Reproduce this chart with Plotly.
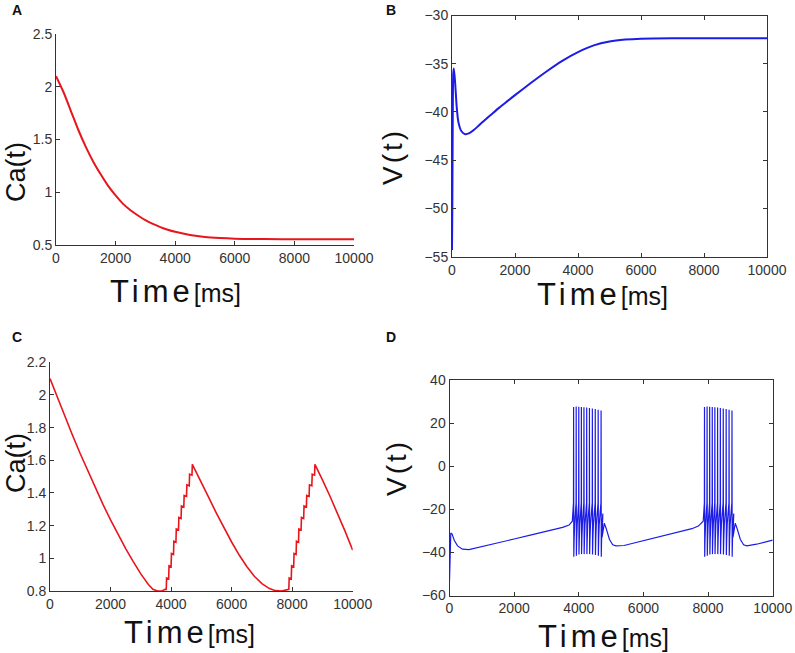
import plotly.graph_objects as go

# ---------------- data ----------------
# Panel A: calcium, no bursting
A_T = [0, 250, 500, 750, 1000, 1250, 1500, 1750, 2000, 2250, 2500, 2750, 3000,
       3250, 3500, 3750, 4000, 4500, 5000, 5500, 6000, 7000, 8000, 10000]
A_CA = [2.10, 1.95, 1.77, 1.59, 1.43, 1.29, 1.17, 1.06, 0.97, 0.89, 0.83, 0.78, 0.735,
        0.70, 0.67, 0.645, 0.625, 0.595, 0.576, 0.566, 0.56, 0.556, 0.555, 0.555]

# Panel B: voltage, no bursting
B_T = [0, 10, 25, 40, 60, 100, 150, 200, 300, 420, 550, 700, 850, 1000, 1250, 1500, 1750,
       2000, 2500, 3000, 3500, 4000, 4500, 5000, 5500, 6000, 7000, 10000]
B_V = [-54.3, -50, -40, -36, -35.5, -37, -39.5, -41, -42, -42.3, -42.2, -41.85, -41.4,
       -40.95, -40.25, -39.55, -38.9, -38.25, -37.0, -35.8, -34.7, -33.8, -33.1, -32.7,
       -32.5, -32.4, -32.35, -32.35]

# Panels C/D: bursting; spike times shared by both panels
BURST1_T = [3840, 3920, 4000, 4080, 4160, 4245, 4330, 4420, 4510, 4600, 4690]
BURST2_T = [7890, 7970, 8050, 8130, 8210, 8295, 8380, 8470, 8560, 8650, 8740]
SPIKE_PEAK = [27.5, 27.7, 27.6, 27.5, 27.4, 27.2, 27.0, 26.8, 26.5, 26.2, 25.8]
SPIKE_TROUGH = [-42, -41.5, -41, -40.8, -40.8, -40.8, -40.8, -41, -41.2, -41.5, -42]
INTERSPIKE_V = [-17, -34, -27, -22]     # pre-spike, fast, mid and slow recovery levels
CA_STEP_LEVEL = [0.88, 0.955, 1.03, 1.105, 1.18, 1.25, 1.32, 1.385, 1.45, 1.515, 1.575]
CA_TREAD_DROP = 0.006

# Panel C inter-burst segments
C_SEG1_T = [0, 250, 500, 750, 1000, 1250, 1500, 1750, 2000, 2250, 2500, 2750, 3000,
            3250, 3400, 3550, 3700, 3800]
C_SEG1_V = [2.10, 1.98, 1.86, 1.75, 1.64, 1.535, 1.43, 1.33, 1.235, 1.145, 1.06, 0.98,
            0.905, 0.84, 0.81, 0.80, 0.80, 0.81]
C_SEG2_T = [4800, 5000, 5250, 5500, 5750, 6000, 6250, 6500, 6750, 7000, 7250, 7450,
            7650, 7800, 7850]
C_SEG2_V = [1.54, 1.465, 1.37, 1.275, 1.185, 1.10, 1.02, 0.95, 0.89, 0.845, 0.815, 0.802,
            0.80, 0.805, 0.81]
C_SEG3_T = [8850, 9000, 9250, 9500, 9750, 10000]
C_SEG3_V = [1.54, 1.48, 1.38, 1.275, 1.165, 1.05]

# Panel D inter-burst segments
D_SEG1_T = [0, 15, 40, 80, 150, 250, 400, 600, 1000, 1500, 2000, 2500, 3000, 3500, 3700, 3800]
D_SEG1_V = [-53.4, -45, -31, -31.5, -34.5, -37, -38.5, -38.7, -37.4, -35.6, -33.8, -32.0,
            -30.2, -28.4, -27.3, -25.5]
D_SEG2_T = [4720, 4760, 4790, 4850, 4950, 5050, 5150, 5400, 6000, 7000, 7500, 7700, 7850]
D_SEG2_V = [-33, -27.5, -26.5, -29, -34, -36.5, -37, -36.8, -34.5, -31, -29, -27.8, -25.5]
D_SEG3_T = [8770, 8810, 8840, 8900, 9000, 9100, 9200, 9500, 10000]
D_SEG3_V = [-33, -27.5, -26.5, -29, -34, -36.5, -37, -36.2, -34.3]

X_TICKS = [0, 2000, 4000, 6000, 8000, 10000]


def burst_voltage(times):
    ts, vs = [], []
    pre, fast, mid, slow = INTERSPIKE_V
    for t, pk, tr in zip(times, SPIKE_PEAK, SPIKE_TROUGH):
        ts += [t - 4, t, t + 6, t + 16, t + 32, t + 55]
        vs += [pre, pk, tr, fast, mid, slow]
    return ts, vs


def burst_calcium(times, start):
    ts, vs = [], []
    prev = start
    for t, lv in zip(times, CA_STEP_LEVEL):
        ts += [t, t + 12]
        vs += [prev, lv]
        prev = lv - CA_TREAD_DROP
    return ts, vs


b1t, b1v = burst_voltage(BURST1_T)
b2t, b2v = burst_voltage(BURST2_T)
D_T = D_SEG1_T + b1t + D_SEG2_T + b2t + D_SEG3_T
D_V = D_SEG1_V + b1v + D_SEG2_V + b2v + D_SEG3_V

c1t, c1v = burst_calcium(BURST1_T, C_SEG1_V[-1])
c2t, c2v = burst_calcium(BURST2_T, C_SEG2_V[-1])
C_T = C_SEG1_T + c1t + C_SEG2_T + c2t + C_SEG3_T
C_V = C_SEG1_V + c1v + C_SEG2_V + c2v + C_SEG3_V

# ---------------- figure ----------------
W, H = 795, 653
RED = "#e8161c"
BLUE = "#1c1ce6"
AXC = "#333333"
FONT = "Liberation Sans, Arial, sans-serif"

fig = go.Figure()
fig.add_trace(go.Scatter(x=A_T, y=A_CA, mode="lines",
                         line=dict(color=RED, width=2, shape="spline", smoothing=0.8),
                         xaxis="x", yaxis="y", showlegend=False))
fig.add_trace(go.Scatter(x=B_T, y=B_V, mode="lines",
                         line=dict(color=BLUE, width=2, shape="spline", smoothing=0.6),
                         xaxis="x2", yaxis="y2", showlegend=False))
fig.add_trace(go.Scatter(x=C_T, y=C_V, mode="lines", line=dict(color=RED, width=1.6),
                         xaxis="x3", yaxis="y3", showlegend=False))
fig.add_trace(go.Scatter(x=D_T, y=D_V, mode="lines", line=dict(color=BLUE, width=1.2),
                         xaxis="x4", yaxis="y4", showlegend=False))


def px_dom_x(a, b):
    return [a / W, b / W]


def px_dom_y(top, bottom):
    return [1 - bottom / H, 1 - top / H]


def axis_common(mirror):
    return dict(showline=True, linecolor=AXC, linewidth=1, mirror=mirror,
                ticks="inside", ticklen=4, tickcolor=AXC, showgrid=False, zeroline=False,
                tickfont=dict(family=FONT, size=14, color=AXC))


def xax(dom, anchor, mirror):
    d = axis_common(mirror)
    d.update(domain=dom, anchor=anchor, range=[0, 10000], tickmode="array",
             tickvals=X_TICKS, ticktext=[str(v) for v in X_TICKS])
    return d


def yax(dom, anchor, rng, vals, mirror):
    d = axis_common(mirror)
    d.update(domain=dom, anchor=anchor, range=rng, tickmode="array",
             tickvals=vals, ticktext=[("%g" % v).replace("-", "\u2212") for v in vals])
    return d


A_YT = [0.5, 1, 1.5, 2, 2.5]
B_YT = [-55, -50, -45, -40, -35, -30]
C_YT = [0.8, 1, 1.2, 1.4, 1.6, 1.8, 2, 2.2]
D_YT = [-60, -40, -20, 0, 20, 40]

fig.update_layout(
    width=W, height=H, margin=dict(l=0, r=0, t=0, b=0, autoexpand=False),
    paper_bgcolor="white", plot_bgcolor="white",
    xaxis=xax(px_dom_x(56, 354), "y", False),
    yaxis=yax(px_dom_y(34, 245), "x", [0.5, 2.5], A_YT, False),
    xaxis2=xax(px_dom_x(452, 767), "y2", "ticks"),
    yaxis2=yax(px_dom_y(15.5, 256.7), "x2", [-55, -30], B_YT, "ticks"),
    xaxis3=xax(px_dom_x(50, 352.7), "y3", False),
    yaxis3=yax(px_dom_y(362.3, 591), "x3", [0.8, 2.2], C_YT, False),
    xaxis4=xax(px_dom_x(449.5, 772.7), "y4", "ticks"),
    yaxis4=yax(px_dom_y(380, 595.5), "x4", [-60, 40], D_YT, "ticks"),
)

TIME_LABEL = ("<span style='letter-spacing:4px'>Time</span>"
              "<span style='font-size:25px'>[ms]</span>")


def ann(text, x, y, size, angle=0, bold=False):
    fig.add_annotation(text=("<b>%s</b>" % text) if bold else text,
                       x=x / W, y=1 - y / H, xref="paper", yref="paper",
                       showarrow=False, textangle=angle, xanchor="center", yanchor="middle",
                       font=dict(family=FONT, size=size, color="#111111"))


ann("A", 17, 10, 14, bold=True)
ann("B", 391, 10, 14, bold=True)
ann("C", 17, 337, 14, bold=True)
ann("D", 391, 337, 14, bold=True)

ann(TIME_LABEL, 175, 291, 31)
ann(TIME_LABEL, 602, 295, 31)
ann(TIME_LABEL, 189, 632, 31)
ann(TIME_LABEL, 603, 636, 31)

ann("Ca(t)", 16, 172, 27, angle=-90)
ann("<span style='letter-spacing:3px'>V(t)</span>", 392, 157, 28, angle=-90)
ann("Ca(t)", 16, 463, 27, angle=-90)
ann("<span style='letter-spacing:3px'>V(t)</span>", 396, 468, 28, angle=-90)

fig.write_html("out.html",
               config={"displayModeBar": False},
               post_script="document.body.style.margin='0px';"
                           "document.body.style.overflow='hidden';")
